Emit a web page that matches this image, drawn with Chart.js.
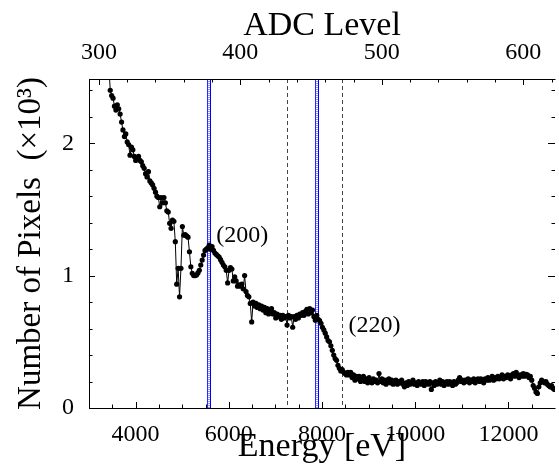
<!DOCTYPE html>
<html><head><meta charset="utf-8">
<script src="https://cdn.jsdelivr.net/npm/chart.js@4.4.1/dist/chart.umd.min.js"></script>
<style>html,body{margin:0;padding:0;background:#fff;overflow:hidden}#wrap{width:559px;height:464px;position:relative}</style>
</head><body><div id="wrap"><canvas id="c"></canvas></div>
<script>
// ADC histogram: counts (in thousands) per ADC channel, starting at firstChannel
const firstChannel = 307;
const counts = [
2.60,2.40,2.36,2.34,2.28,2.25,2.29,2.26,2.22,2.16,
2.10,2.05,2.07,2.01,1.99,1.91,1.97,1.95,1.90,1.87,
1.88,1.90,1.87,1.86,1.83,1.81,1.77,1.745,1.785,1.715,
1.70,1.685,1.66,1.63,1.60,1.59,1.52,1.59,1.55,1.59,
1.55,1.49,1.48,1.395,1.357,1.42,1.41,1.256,0.935,1.055,
0.84,1.055,1.37,1.305,1.31,1.30,1.29,1.18,1.067,1.017,
1.00,1.00,1.005,1.02,1.04,1.08,1.117,1.155,1.19,1.20,
1.21,1.23,1.20,1.22,1.19,1.17,1.16,1.15,1.14,1.12,
1.10,1.08,1.067,1.04,0.945,1.04,1.06,1.05,0.96,0.99,
0.96,0.92,0.93,0.92,0.935,0.90,1.00,0.88,0.85,0.84,
0.79,0.65,0.80,0.77,0.79,0.76,0.78,0.75,0.77,0.74,
0.76,0.72,0.75,0.71,0.73,0.75,0.71,0.72,0.68,0.71,
0.69,0.70,0.67,0.70,0.68,0.69,0.626,0.70,0.68,0.69,
0.61,0.69,0.67,0.70,0.68,0.71,0.70,0.72,0.70,0.73,
0.746,0.71,0.75,0.72,0.74,0.69,0.663,0.70,0.67,0.66,
0.64,0.61,0.59,0.565,0.537,0.51,0.50,0.47,0.436,0.40,
0.373,0.36,0.323,0.30,0.28,0.29,0.272,0.26,0.25,0.27,
0.25,0.27,0.23,0.25,0.21,0.24,0.22,0.24,0.20,0.23,
0.24,0.20,0.22,0.19,0.23,0.21,0.19,0.22,0.20,0.21,
0.19,0.26,0.20,0.22,0.19,0.21,0.18,0.21,0.22,0.19,
0.21,0.18,0.20,0.21,0.18,0.20,0.19,0.21,0.18,0.16,
0.19,0.17,0.20,0.18,0.19,0.21,0.18,0.19,0.17,0.20,
0.19,0.18,0.20,0.17,0.20,0.19,0.18,0.20,0.14,0.19,
0.17,0.20,0.18,0.19,0.21,0.18,0.20,0.17,0.19,0.20,
0.18,0.20,0.19,0.17,0.20,0.18,0.19,0.21,0.23,0.20,
0.21,0.19,0.21,0.20,0.22,0.19,0.21,0.20,0.22,0.19,
0.21,0.22,0.20,0.22,0.21,0.19,0.22,0.21,0.23,0.21,
0.22,0.24,0.21,0.23,0.22,0.24,0.22,0.23,0.25,0.22,
0.24,0.23,0.25,0.24,0.22,0.25,0.26,0.24,0.27,0.25,
0.23,0.25,0.24,0.26,0.24,0.255,0.25,0.23,0.24,0.21,
0.17,0.15,0.12,0.11,0.16,0.19,0.21,0.20,0.19,0.20,
0.18,0.17,0.16,0.17,0.15,0.14
];
const energyTicks = [4000, 6000, 8000, 10000, 12000];
const energyMinorStep = 500;
const adcTicks = [300, 400, 500, 600];
const adcMinorStep = 20;
const countTicks = [0, 1, 2];
const countMinorStep = 0.2;
const energyRange = [3000, 13000];
const adcRange = [292.99, 622.43];
const countRange = [0, 2.485];
const peakLines = [5574, 7894];      // blue double lines (eV)
const windowLines = [7240, 8420];    // dashed lines (eV)
const peakLabels = ['(200)', '(220)'];
const peakLabelEnergy = [5730, 8570];
const peakLabelCount = [1.30, 0.62];

const FONT = "'Liberation Serif','Times New Roman',serif";

const points = counts.map((v, i) => ({x: firstChannel + i, y: v}));

function minorValues(min, max, step, majors) {
  const out = [];
  const start = Math.ceil(min / step) * step;
  for (let v = start; v <= max + 1e-9; v += step) {
    const r = Math.round(v * 1000) / 1000;
    if (!majors.some(m => Math.abs(m - r) < 1e-6)) out.push(r);
  }
  return out;
}

const framePlugin = {
  id: 'frame',
  beforeDatasetsDraw(chart) {
    const {ctx, chartArea: a, scales} = chart;
    const xs = scales.x;
    ctx.save();
    ctx.strokeStyle = '#444';
    ctx.lineWidth = 1;
    ctx.setLineDash([4, 3]);
    windowLines.forEach(e => {
      const x = Math.round(xs.getPixelForValue(e)) + 0.5;
      ctx.beginPath(); ctx.moveTo(x, a.top); ctx.lineTo(x, a.bottom); ctx.stroke();
    });
    peakLines.forEach(e => {
      const x = Math.round(xs.getPixelForValue(e));
      ctx.setLineDash([]);
      ctx.strokeStyle = '#2a2aff';
      ctx.beginPath(); ctx.moveTo(x - 1.5, a.top); ctx.lineTo(x - 1.5, a.bottom); ctx.stroke();
      ctx.strokeStyle = '#0000ff';
      ctx.beginPath(); ctx.moveTo(x + 1.5, a.top); ctx.lineTo(x + 1.5, a.bottom); ctx.stroke();
      ctx.strokeStyle = '#8c8cff';
      ctx.setLineDash([1, 1]);
      ctx.lineWidth = 2;
      ctx.beginPath(); ctx.moveTo(x, a.top); ctx.lineTo(x, a.bottom); ctx.stroke();
      ctx.lineWidth = 1;
    });
    ctx.restore();
  },
  afterDraw(chart) {
    const {ctx, chartArea: a, scales} = chart;
    const xs = scales.x, x2 = scales.x2, ys = scales.y;
    ctx.save();
    ctx.strokeStyle = '#000';
    ctx.lineWidth = 1;
    ctx.setLineDash([]);
    ctx.beginPath();
    ctx.moveTo(a.left + 0.5, a.top + 0.5);
    ctx.lineTo(a.right + 0.5, a.top + 0.5);
    ctx.moveTo(a.left + 0.5, a.top);
    ctx.lineTo(a.left + 0.5, a.bottom + 0.5);
    ctx.lineTo(a.right + 0.5, a.bottom + 0.5);
    ctx.stroke();
    const MAJ = 6, MIN = 3.5;
    ctx.beginPath();
    const eMin = minorValues(energyRange[0], energyRange[1], energyMinorStep, energyTicks);
    energyTicks.forEach(v => { const x = Math.round(xs.getPixelForValue(v)) + 0.5; ctx.moveTo(x, a.bottom); ctx.lineTo(x, a.bottom - MAJ); });
    eMin.forEach(v => { const x = Math.round(xs.getPixelForValue(v)) + 0.5; if (x > a.left + 1 && x < a.right) { ctx.moveTo(x, a.bottom); ctx.lineTo(x, a.bottom - MIN); } });
    const aMin = minorValues(adcRange[0], adcRange[1], adcMinorStep, adcTicks);
    adcTicks.forEach(v => { const x = Math.round(x2.getPixelForValue(v)) + 0.5; ctx.moveTo(x, a.top); ctx.lineTo(x, a.top + MAJ); });
    aMin.forEach(v => { const x = Math.round(x2.getPixelForValue(v)) + 0.5; if (x > a.left + 1 && x < a.right) { ctx.moveTo(x, a.top); ctx.lineTo(x, a.top + MIN); } });
    const cMin = minorValues(countRange[0], countRange[1], countMinorStep, countTicks);
    countTicks.forEach(v => { const y = Math.round(ys.getPixelForValue(v)) + 0.5; ctx.moveTo(a.left, y); ctx.lineTo(a.left + MAJ, y); ctx.moveTo(a.right, y); ctx.lineTo(a.right - MAJ - 1, y); });
    cMin.forEach(v => { const y = Math.round(ys.getPixelForValue(v)) + 0.5; if (y > a.top + 1 && y < a.bottom - 1) { ctx.moveTo(a.left, y); ctx.lineTo(a.left + MIN, y); ctx.moveTo(a.right, y); ctx.lineTo(a.right - MIN, y); } });
    ctx.stroke();
    ctx.fillStyle = '#000';
    ctx.font = '24px ' + FONT;
    ctx.textAlign = 'left';
    ctx.textBaseline = 'middle';
    peakLabels.forEach((t, i) => {
      ctx.fillText(t, xs.getPixelForValue(peakLabelEnergy[i]), ys.getPixelForValue(peakLabelCount[i]));
    });
    ctx.restore();
  }
};

const tickFont = {family: FONT, size: 24};

new Chart(document.getElementById('c'), {
  type: 'line',
  data: {
    datasets: [{
      data: points,
      xAxisID: 'x2',
      yAxisID: 'y',
      borderColor: '#000',
      borderWidth: 1,
      pointRadius: 2.6,
      pointBackgroundColor: '#000',
      pointBorderWidth: 0,
      tension: 0,
      fill: false
    }]
  },
  options: {
    responsive: true,
    maintainAspectRatio: false,
    animation: false,
    devicePixelRatio: 1,
    layout: {padding: 0},
    plugins: {legend: {display: false}, tooltip: {enabled: false}},
    scales: {
      x: {
        type: 'linear', position: 'bottom',
        min: energyRange[0], max: energyRange[1],
        grid: {display: false}, border: {display: false},
        afterBuildTicks: s => { s.ticks = energyTicks.map(v => ({value: v})); },
        afterFit: s => { s.height = 56; },
        ticks: {font: tickFont, color: '#000', padding: 4, maxRotation: 0, autoSkip: false, callback: v => String(v)},
        title: {display: true, text: 'Energy [eV]', color: '#000', font: {family: FONT, size: 34, lineHeight: 1}, padding: {top: 0, bottom: 0}}
      },
      x2: {
        type: 'linear', position: 'top',
        min: adcRange[0], max: adcRange[1],
        grid: {display: false}, border: {display: false},
        afterBuildTicks: s => { s.ticks = adcTicks.map(v => ({value: v})); },
        afterFit: s => { s.height = 79; },
        ticks: {font: tickFont, color: '#000', padding: 4, maxRotation: 0, autoSkip: false, callback: v => String(v)},
        title: {display: true, text: 'ADC Level', color: '#000', font: {family: FONT, size: 34, lineHeight: 1}, padding: {top: 9, bottom: 0}}
      },
      y: {
        type: 'linear', position: 'left',
        min: countRange[0], max: countRange[1],
        grid: {display: false}, border: {display: false},
        afterBuildTicks: s => { s.ticks = countTicks.map(v => ({value: v})); },
        afterFit: s => { s.width = 89; },
        ticks: {font: tickFont, color: '#000', padding: 7, autoSkip: false, callback: v => String(v)},
        title: {display: true, text: 'Number of Pixels  (×10³)', color: '#000', font: {family: FONT, size: 33, lineHeight: 1}, padding: {top: 15, bottom: 0}}
      }
    }
  },
  plugins: [framePlugin]
});
</script>
</body></html>
